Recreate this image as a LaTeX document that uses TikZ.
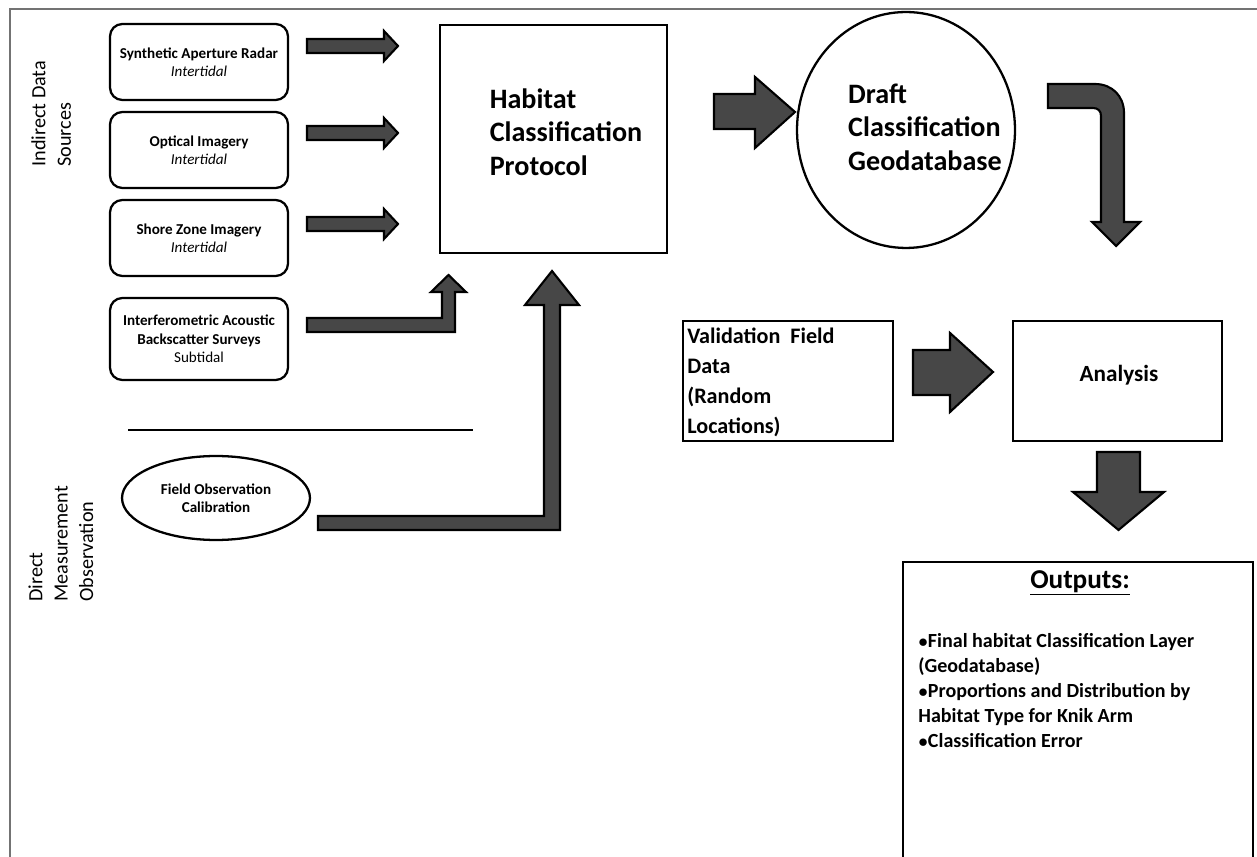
\documentclass[tikz,border=0pt]{standalone}
\usepackage{fontspec}
\setmainfont{Carlito}
\usetikzlibrary{positioning,shapes.geometric}

\begin{document}
\begin{tikzpicture}[x=0.02cm, y=-0.02cm,
    srcbox/.style={draw, line width=1.3pt, rounded corners=7pt, minimum width=3.56cm, minimum height=1.52cm, align=center, font=\bfseries\fontsize{8.6}{10.5}\selectfont},
    plainbox/.style={draw, line width=1.3pt},
    bigtext/.style={align=left, font=\bfseries\fontsize{16}{19}\selectfont},
    sidetext/.style={rotate=90, anchor=north west, align=left, inner sep=0pt, font=\fontsize{11.5}{14.5}\selectfont},
    blockarrow/.style={draw=black, line width=1.2pt, fill=black!72, line join=miter}]

    \useasboundingbox (0,0) rectangle (1257,857);
    \draw[black!55, line width=0.6pt] (10,857) -- (10,9) -- (1257,9);

    % indirect data sources
    \node[sidetext] (indirect) at (31,167) {Indirect Data\\Sources};
    \node[srcbox] (sar) at (199,62) {Synthetic Aperture Radar\\{\mdseries\itshape Intertidal}};
    \node[srcbox] (optical) at (199,150) {Optical Imagery\\{\mdseries\itshape Intertidal}};
    \node[srcbox] (shore) at (199,238) {Shore Zone Imagery\\{\mdseries\itshape Intertidal}};
    \node[srcbox, minimum height=1.64cm] (acoustic) at (199,339) {Interferometric Acoustic\\Backscatter Surveys\\{\mdseries Subtidal}};

    \draw[line width=1pt] (128,430) -- (473,430);

    % direct measurement
    \node[sidetext] (direct) at (28,602) {Direct\\Measurement\\Observation};
    \node[draw, ellipse, line width=1.3pt, minimum width=3.76cm, minimum height=1.68cm, align=center, font=\bfseries\fontsize{8.6}{10.5}\selectfont] (field) at (216,498) {Field Observation\\Calibration};

    % protocol and geodatabase
    \node[plainbox, minimum width=4.54cm, minimum height=4.56cm] (habitat) at (553.5,139) {};
    \node[bigtext] (habtext) at (566,132) {Habitat\\Classification\\Protocol};
    \node[draw, ellipse, line width=1.3pt, minimum width=4.36cm, minimum height=4.72cm] (draft) at (906,130) {};
    \node[bigtext] (drafttext) at (925,127) {Draft\\Classification\\Geodatabase};

    % validation and analysis
    \node[plainbox, minimum width=4.2cm, minimum height=2.4cm] (valid) at (788,381) {};
    \node[anchor=north west, align=left, inner sep=0pt, font=\bfseries\fontsize{12.6}{17}\selectfont] (validtext) at (687,328) {Validation~ Field\\Data\\(Random\\Locations)};
    \node[plainbox, minimum width=4.18cm, minimum height=2.4cm] (analysis) at (1117.5,381) {};
    \node[font=\bfseries\fontsize{13.2}{15}\selectfont] (antext) at (1119,375) {Analysis};

    % outputs
    \draw[line width=1.3pt] (903,862) -- (903,562) -- (1253,562) -- (1253,862);
    \node[font=\bfseries\fontsize{15.5}{18}\selectfont] (outtitle) at (1080,583) {\underline{Outputs:}};
    \node[anchor=north west, align=left, inner sep=0pt, font=\bfseries\fontsize{11.4}{14.2}\selectfont] (outlist) at (918,633) {$\bullet$Final habitat Classification Layer\\(Geodatabase)\\$\bullet$Proportions and Distribution by\\Habitat Type for Knik Arm\\$\bullet$Classification Error};

    % block arrows
    \draw[blockarrow] (307,39) -- (384,39) -- (384,31) -- (398,46) -- (384,61) -- (384,53) -- (307,53) -- cycle;
    \draw[blockarrow] (307,126) -- (384,126) -- (384,118) -- (398,133) -- (384,148) -- (384,140) -- (307,140) -- cycle;
    \draw[blockarrow] (307,217) -- (384,217) -- (384,209) -- (398,224) -- (384,239) -- (384,231) -- (307,231) -- cycle;
    \draw[blockarrow] (307,318) -- (442,318) -- (442,292) -- (431,292) -- (448.5,275) -- (466,292) -- (455,292) -- (455,332) -- (307,332) -- cycle;
    \draw[blockarrow] (318,516) -- (544,516) -- (544,305) -- (525,305) -- (552,271) -- (579,305) -- (560,305) -- (560,530) -- (318,530) -- cycle;
    \draw[blockarrow] (714,94) -- (755,94) -- (755,77) -- (795,112) -- (755,148) -- (755,129) -- (714,129) -- cycle;
    \draw[blockarrow] (1048,84) -- (1095,84) .. controls (1112,84) and (1124,96) .. (1124,113) -- (1124,222) -- (1140,222) -- (1116,246) -- (1092,222) -- (1101,222) -- (1101,116) .. controls (1101,111) and (1098,108) .. (1093,108) -- (1048,108) -- cycle;
    \draw[blockarrow] (913,350) -- (950,350) -- (950,333) -- (993,372) -- (950,412) -- (950,395) -- (913,395) -- cycle;
    \draw[blockarrow] (1097,452) -- (1140,452) -- (1140,492) -- (1164,492) -- (1118.5,530) -- (1073,492) -- (1097,492) -- cycle;
\end{tikzpicture}
\end{document}
